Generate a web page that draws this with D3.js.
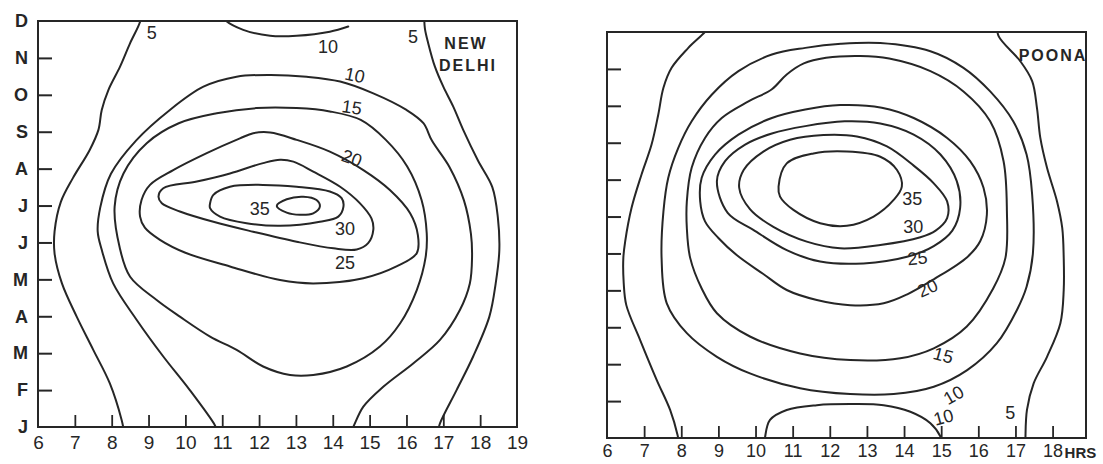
<!DOCTYPE html>
<html><head><meta charset="utf-8">
<script src="https://cdn.jsdelivr.net/npm/d3@7"></script>
<style>body{margin:0;background:#fff}svg{display:block}</style>
</head><body><svg id="c" width="1103" height="464"></svg>
<script>
// ---------- axis labels ----------
const monthLabels = ["J","F","M","A","M","J","J","A","S","O","N","D"]; // month index 0..11 bottom to top
const delhiHours = [6,7,8,9,10,11,12,13,14,15,16,17,18,19];
const poonaHours = [6,7,8,9,10,11,12,13,14,15,16,17,18];
const hourTicks = [7,8,9,10,11,12,13,14,15,16,17,18];
const monthTicks = [1,2,3,4,5,6,7,8,9,10];

// ---------- NEW DELHI isolines: [hour, month index] ----------
const delhi5Left = [[8.80,11.2],[8.77,10.98],[8.50,10.40],[8.23,9.77],[7.91,9.13],[7.73,8.59],[7.64,8.05],[7.40,7.50],[6.95,6.75],[6.62,6.10],[6.45,5.30],[6.45,4.70],[6.65,3.89],[7.05,2.99],[7.50,2.09],[7.95,1.18],[8.27,0.19],[8.33,-0.1]];
const delhi5Right = [[16.48,11.2],[16.50,10.80],[16.59,10.40],[16.77,9.77],[17.0,9.22],[17.27,8.68],[17.54,8.05],[17.94,7.22],[18.33,6.50],[18.48,5.68],[18.52,4.78],[18.42,3.88],[18.25,2.99],[17.81,1.91],[17.36,1.00],[16.91,0.10],[16.86,-0.1]];
const delhi10Top = [[10.95,11.2],[11.07,11.03],[11.57,10.76],[12.30,10.60],[13.02,10.60],[13.92,10.71],[14.42,10.85]];
const delhi10 = [[10.86,-0.1],[10.80,0.05],[10.12,1.00],[9.40,1.91],[8.68,2.90],[8.04,3.89],[7.73,4.80],[7.62,5.30],[7.69,5.95],[7.98,6.86],[8.66,7.76],[9.58,8.59],[10.49,9.22],[11.39,9.49],[12.30,9.54],[13.29,9.49],[14.20,9.36],[15.10,9.04],[16.0,8.59],[16.46,8.23],[16.69,7.76],[17.17,7.04],[17.56,6.14],[17.75,5.23],[17.78,4.60],[17.72,3.89],[17.45,3.17],[16.91,2.36],[16.19,1.73],[15.37,1.09],[14.83,0.55],[14.56,0.01],[14.5,-0.1]];
const delhi15 = [[10.85,8.50],[11.93,8.64],[13.02,8.64],[13.92,8.55],[14.76,8.32],[15.44,7.78],[16.02,7.06],[16.41,6.15],[16.55,5.25],[16.52,4.60],[16.28,3.71],[15.83,2.81],[15.28,2.18],[14.38,1.64],[13.47,1.41],[12.84,1.41],[12.11,1.64],[11.39,2.09],[10.67,2.45],[9.85,2.99],[9.22,3.44],[8.50,4.07],[8.22,4.85],[8.08,5.97],[8.32,6.87],[8.95,7.69],[9.82,8.23]];
const delhi20 = [[8.77,5.70],[8.81,6.15],[9.04,6.56],[9.67,6.96],[10.58,7.42],[11.48,7.82],[11.84,7.96],[12.30,7.98],[13.02,7.78],[13.92,7.46],[14.83,6.96],[15.55,6.42],[16.10,5.79],[16.31,5.20],[16.28,4.71],[15.73,4.35],[14.83,4.03],[13.47,3.89],[12.57,3.98],[11.21,4.35],[10.0,4.72],[9.31,5.07],[8.90,5.40]];
const delhi25 = [[9.27,6.24],[9.40,6.47],[10.31,6.65],[11.21,6.87],[12.11,7.15],[12.57,7.24],[12.93,7.19],[13.47,6.92],[14.20,6.51],[14.74,6.06],[15.05,5.65],[15.10,5.34],[14.96,4.98],[14.65,4.81],[14.02,4.84],[13.02,5.02],[11.84,5.29],[10.76,5.56],[9.85,5.84],[9.36,6.06]];
const delhi30 = [[10.67,6.06],[10.76,6.29],[11.21,6.51],[12.11,6.56],[13.02,6.51],[13.92,6.38],[14.24,6.20],[14.29,5.97],[14.15,5.70],[13.65,5.56],[12.57,5.45],[11.66,5.52],[10.94,5.70],[10.67,5.93]];
const delhi35 = [[12.48,5.99],[12.75,6.17],[13.20,6.24],[13.56,6.15],[13.65,5.97],[13.47,5.79],[13.11,5.75],[12.75,5.81]];

// ---------- POONA isolines ----------
const poona5Left = [[8.72,11.2],[8.69,11.07],[8.19,10.57],[7.74,10.03],[7.52,9.49],[7.38,8.76],[7.20,7.95],[6.93,7.14],[6.66,6.23],[6.49,5.33],[6.44,4.88],[6.45,4.20],[6.52,3.60],[6.89,2.66],[7.34,1.57],[7.70,0.76],[7.90,0.08],[7.93,-0.1]];
const poona5Right = [[16.50,11.2],[16.55,10.88],[17.13,10.21],[17.45,9.67],[17.58,8.94],[17.67,8.13],[17.85,7.32],[18.12,6.41],[18.26,5.69],[18.30,4.88],[18.30,4.01],[18.21,3.11],[17.85,2.20],[17.49,1.48],[17.31,0.76],[17.27,0.04],[17.27,-0.1]];
const poona10Bottom = [[10.25,-0.1],[10.26,0.04],[10.39,0.49],[10.84,0.76],[11.65,0.89],[12.55,0.92],[13.45,0.89],[14.17,0.71],[14.71,0.40],[14.98,0.04],[15.02,-0.1]];
const poona10 = [[7.47,4.88],[7.52,6.14],[7.65,7.05],[7.92,7.86],[8.28,8.58],[8.82,9.30],[9.54,9.94],[10.44,10.39],[11.34,10.57],[12.30,10.68],[13.36,10.70],[14.71,10.48],[15.60,10.03],[16.32,9.39],[16.94,8.58],[17.30,7.68],[17.45,6.59],[17.47,5.00],[17.30,4.10],[17.04,3.47],[16.50,2.57],[15.70,1.84],[14.80,1.39],[13.72,1.19],[12.55,1.19],[11.20,1.35],[9.85,1.75],[8.96,2.20],[8.15,2.84],[7.61,3.65]];
const poona15 = [[8.24,4.88],[8.15,5.69],[8.15,6.41],[8.28,7.32],[8.64,8.13],[9.09,8.67],[9.81,9.12],[10.44,9.45],[10.84,9.85],[11.30,10.15],[11.90,10.30],[12.82,10.35],[13.60,10.28],[14.71,9.94],[15.60,9.39],[16.32,8.58],[16.68,7.50],[16.77,6.14],[16.73,4.88],[16.40,4.05],[15.69,3.02],[14.80,2.43],[13.90,2.16],[12.55,2.11],[11.20,2.29],[9.85,2.75],[8.96,3.38],[8.55,4.05]];
const poona20 = [[8.51,6.41],[8.55,7.05],[8.91,7.68],[9.54,8.22],[10.44,8.67],[11.34,8.90],[12.28,9.02],[13.40,8.95],[14.26,8.67],[15.16,8.13],[15.78,7.50],[16.14,6.78],[16.23,6.05],[16.05,5.33],[15.70,4.90],[14.80,4.30],[14.10,3.90],[13.45,3.65],[12.55,3.60],[11.65,3.74],[10.84,4.01],[10.20,4.45],[9.50,4.95],[9.00,5.42],[8.64,5.87]];
const poona25 = [[8.96,6.96],[9.18,7.50],[9.72,7.95],[10.44,8.25],[11.34,8.45],[12.40,8.58],[13.36,8.52],[14.26,8.22],[14.98,7.68],[15.42,6.96],[15.51,6.23],[15.30,5.62],[14.80,5.20],[14.08,4.91],[12.91,4.73],[11.74,4.78],[10.84,5.09],[9.94,5.64],[9.25,6.10]];
const poona30 = [[9.56,6.78],[9.68,7.26],[10.21,7.76],[10.93,8.08],[11.83,8.21],[12.73,8.17],[13.54,7.90],[14.26,7.38],[14.80,6.90],[15.16,6.41],[15.16,5.96],[14.85,5.62],[14.44,5.44],[13.36,5.23],[12.28,5.14],[11.38,5.32],[10.48,5.72],[9.85,6.20]];
const poona35 = [[10.62,6.81],[10.84,7.44],[11.56,7.71],[12.46,7.76],[13.36,7.62],[13.81,7.26],[13.94,6.81],[13.72,6.45],[13.18,6.00],[12.46,5.75],[11.74,5.82],[11.02,6.18],[10.66,6.54]];

// ---------- contour level labels: [text, hour, month, tilt] ----------
const delhiLabels = [["5",9.09,10.68,0],["10",13.87,10.30,0],["5",16.18,10.57,0],["10",14.60,9.54,12],["15",14.52,8.67,8],["20",14.52,7.29,20],["35",12.02,5.93,0],["30",14.33,5.39,0],["25",14.33,4.47,0]];
const poonaLabels = [["35",14.22,6.50,0],["30",14.25,5.72,0],["25",14.36,4.88,-5],["20",14.63,4.07,-25],["15",15.06,2.25,15],["10",15.33,1.17,-30],["10",15.06,0.57,-15],["5",16.86,0.68,0]];

const delhiLines = [
  {pts: delhi5Left, closed: false}, {pts: delhi5Right, closed: false},
  {pts: delhi10Top, closed: false}, {pts: delhi10, closed: false},
  {pts: delhi15, closed: true}, {pts: delhi20, closed: true},
  {pts: delhi25, closed: true}, {pts: delhi30, closed: true}, {pts: delhi35, closed: true}
];
const poonaLines = [
  {pts: poona5Left, closed: false}, {pts: poona5Right, closed: false},
  {pts: poona10Bottom, closed: false}, {pts: poona10, closed: true},
  {pts: poona15, closed: true}, {pts: poona20, closed: true},
  {pts: poona25, closed: true}, {pts: poona30, closed: true}, {pts: poona35, closed: true}
];

const INK = "#262626";
const FONT = "'Liberation Sans', Arial, sans-serif";
const svg = d3.select("#c");
svg.append("rect").attr("width",1103).attr("height",464).attr("fill","#ffffff");

function drawPanel(o) {
  const x = d3.scaleLinear().domain([6, o.hourMax]).range(o.xr);
  const y = d3.scaleLinear().domain([0, 11]).range(o.yr);
  const g = svg.append("g");
  const fx0 = x(6), fx1 = x(o.frameHourMax), fy0 = y(11), fy1 = y(0);

  g.append("clipPath").attr("id", o.id).append("rect")
    .attr("x", fx0).attr("y", fy0).attr("width", fx1 - fx0).attr("height", fy1 - fy0);

  const lineOpen = d3.line().x(d => x(d[0])).y(d => y(d[1])).curve(d3.curveCatmullRom.alpha(0.5));
  const lineClosed = d3.line().x(d => x(d[0])).y(d => y(d[1])).curve(d3.curveCatmullRomClosed.alpha(0.5));

  g.append("g").attr("clip-path", `url(#${o.id})`)
    .selectAll("path").data(o.lines).join("path")
    .attr("d", d => (d.closed ? lineClosed : lineOpen)(d.pts))
    .attr("fill", "none").attr("stroke", INK).attr("stroke-width", 2)
    .attr("stroke-linejoin", "round").attr("stroke-linecap", "round");

  // frame
  g.append("rect").attr("x", fx0).attr("y", fy0).attr("width", fx1 - fx0).attr("height", fy1 - fy0)
    .attr("fill", "none").attr("stroke", INK).attr("stroke-width", 2);

  // inward ticks
  const yt = g.append("g").attr("transform", `translate(${fx0},0)`)
    .call(d3.axisRight(y).tickValues(monthTicks).tickSize(14).tickFormat(""));
  yt.select(".domain").remove();
  yt.selectAll("line").attr("stroke", INK).attr("stroke-width", 2);

  const xt = g.append("g").attr("transform", `translate(0,${fy1})`)
    .call(d3.axisTop(x).tickValues(hourTicks).tickSize(12).tickFormat(""));
  xt.select(".domain").remove();
  xt.selectAll("line").attr("stroke", INK).attr("stroke-width", 1.8);

  // hour labels
  const xl = g.append("g").attr("transform", `translate(0,${fy1})`)
    .call(d3.axisBottom(x).tickValues(o.hours).tickSize(0).tickPadding(o.xPad).tickFormat(d3.format("d")));
  xl.select(".domain").remove();
  xl.selectAll("text").attr("font-family", FONT)
    .attr("font-size", o.xFont).attr("fill", INK);

  if (o.showMonths) {
    const yl = g.append("g").attr("transform", `translate(${fx0},0)`)
      .call(d3.axisLeft(y).tickValues(d3.range(12)).tickSize(0).tickPadding(10).tickFormat(i => monthLabels[i]));
    yl.select(".domain").remove();
    yl.selectAll("text").attr("font-family", FONT)
      .attr("font-size", 18).attr("font-weight", "bold").attr("fill", INK);
  }

  g.append("g").selectAll("text").data(o.labels).join("text")
    .attr("transform", d => `translate(${x(d[1])},${y(d[2])}) rotate(${d[3]})`)
    .attr("text-anchor", "middle").attr("dy", "0.36em")
    .attr("font-family", FONT).attr("font-size", 18)
    .attr("fill", INK).text(d => d[0]);

  return {x, y, g};
}

const delhi = drawPanel({id: "clipDelhi", hourMax: 19, frameHourMax: 19, xr: [38, 517], yr: [427, 21],
  lines: delhiLines, labels: delhiLabels, hours: delhiHours, xPad: 9, xFont: 19, showMonths: true});
delhi.g.append("text").attr("x", 466).attr("y", 49).attr("text-anchor", "middle")
  .attr("font-family", FONT).attr("font-size", 16).attr("font-weight", "bold")
  .attr("letter-spacing", 2).attr("fill", INK).text("NEW");
delhi.g.append("text").attr("x", 468).attr("y", 71).attr("text-anchor", "middle")
  .attr("font-family", FONT).attr("font-size", 16).attr("font-weight", "bold")
  .attr("letter-spacing", 2).attr("fill", INK).text("DELHI");

const poona = drawPanel({id: "clipPoona", hourMax: 18.9, frameHourMax: 18.9, xr: [607, 1086], yr: [438, 32],
  lines: poonaLines, labels: poonaLabels, hours: poonaHours, xPad: 6, xFont: 18, showMonths: false});
poona.g.append("text").attr("x", poona.x(18) + 12).attr("y", 458).attr("text-anchor", "start")
  .attr("font-family", FONT).attr("font-size", 15).attr("font-weight", "bold")
  .attr("fill", INK).text("HRS");
poona.g.append("text").attr("x", 1053).attr("y", 61).attr("text-anchor", "middle")
  .attr("font-family", FONT).attr("font-size", 16).attr("font-weight", "bold")
  .attr("letter-spacing", 2).attr("fill", INK).text("POONA");
</script>
</body></html>
